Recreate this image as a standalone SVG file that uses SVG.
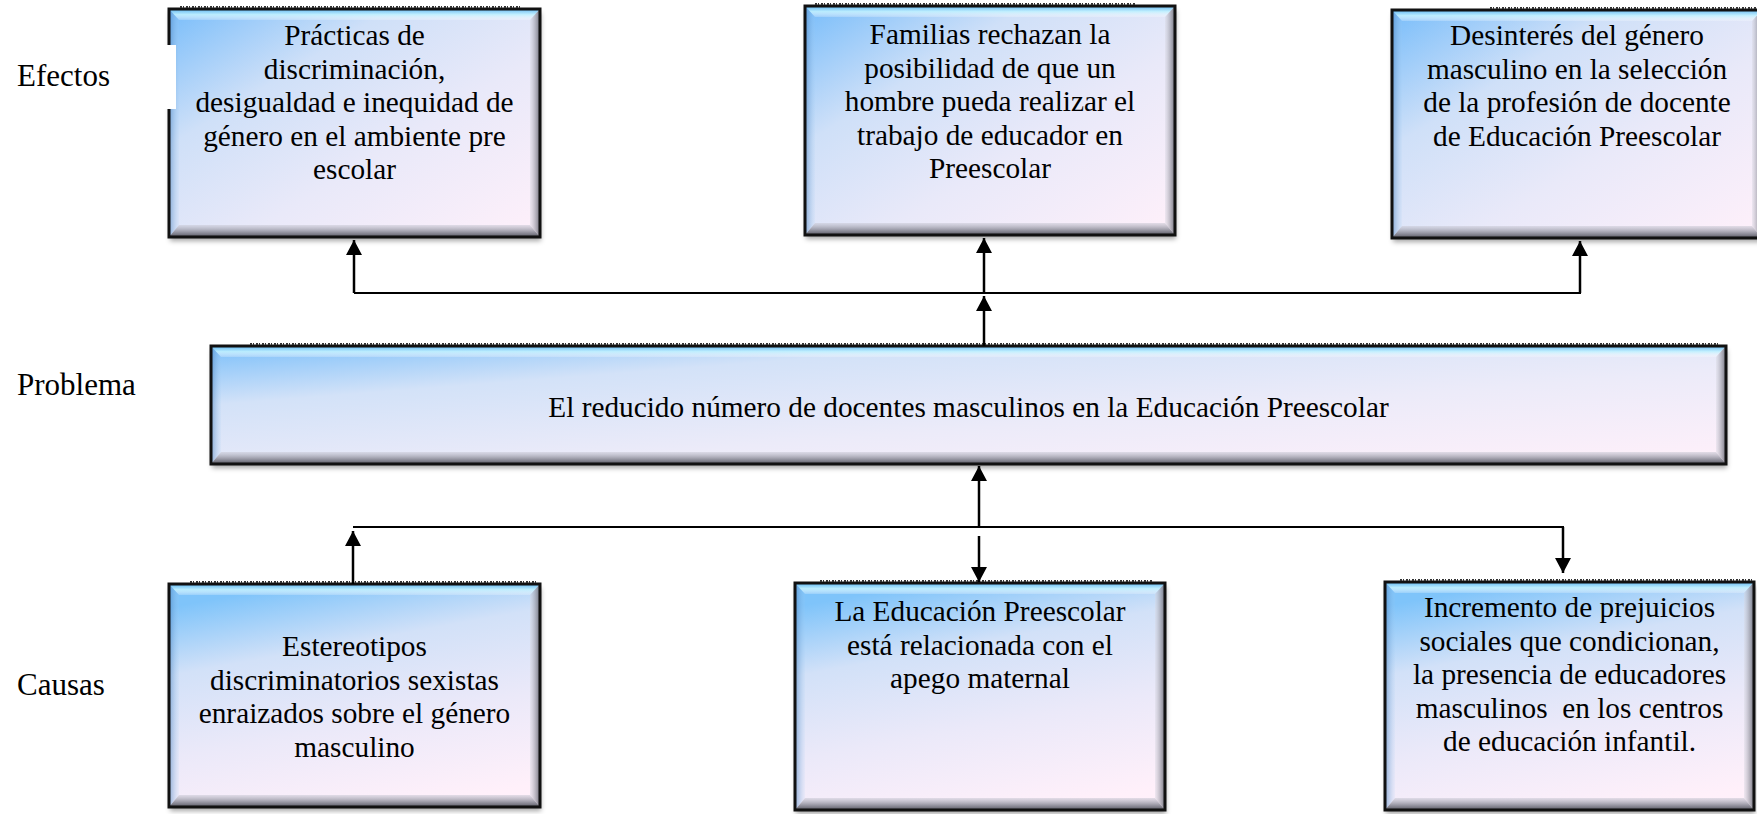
<svg xmlns="http://www.w3.org/2000/svg" width="1757" height="814" viewBox="0 0 1757 814">
<style>
.lbl{font-family:"Liberation Serif","Times New Roman",serif;font-size:31px;fill:#000}
.t{font-family:"Liberation Serif","Times New Roman",serif;font-size:29.3px;fill:#000;text-anchor:middle}
.brd{fill:none;stroke:#111;stroke-width:3}
.bt{fill:url(#gTop)}
.bb{fill:url(#gBot)}
.br{fill:url(#gRight)}
.bl{fill:url(#gLeft)}
.jag{stroke:#333;stroke-width:2;stroke-dasharray:2 1 1 2;fill:none}
.con{fill:none;stroke:#000;stroke-width:2.5}
.hl{fill:none;stroke:#000;stroke-width:2}
</style>
<defs>
<linearGradient id="gDiag" x1="0" y1="0" x2="1" y2="1">
<stop offset="0" stop-color="#78bdfa"/>
<stop offset="0.3" stop-color="#cfe0f8"/>
<stop offset="0.6" stop-color="#e9e9f9"/>
<stop offset="1" stop-color="#fff0fa"/>
</linearGradient>
<linearGradient id="gVert" x1="0.35" y1="0" x2="0.65" y2="1">
<stop offset="0" stop-color="#7fc4fa"/>
<stop offset="0.28" stop-color="#d2e1f8"/>
<stop offset="0.62" stop-color="#ebe9f9"/>
<stop offset="1" stop-color="#fff0fa"/>
</linearGradient>
<linearGradient id="gProb" x1="0" y1="0" x2="1" y2="1">
<stop offset="0" stop-color="#7cc0fa"/>
<stop offset="0.25" stop-color="#d3e2f8"/>
<stop offset="0.6" stop-color="#ecebf9"/>
<stop offset="1" stop-color="#fff0fa"/>
</linearGradient>
<linearGradient id="gTop" x1="0" y1="0" x2="0" y2="1">
<stop offset="0" stop-color="#5ab4f0" stop-opacity="0.9"/>
<stop offset="0.5" stop-color="#bff0ff" stop-opacity="0.9"/>
<stop offset="1" stop-color="#ffffff" stop-opacity="0.2"/>
</linearGradient>
<linearGradient id="gBot" x1="0" y1="0" x2="0" y2="1">
<stop offset="0" stop-color="#c8c8d4" stop-opacity="0.5"/>
<stop offset="0.6" stop-color="#8c8c98" stop-opacity="0.9"/>
<stop offset="1" stop-color="#55555f" stop-opacity="1"/>
</linearGradient>
<linearGradient id="gRight" x1="0" y1="0" x2="1" y2="0">
<stop offset="0" stop-color="#d8d8e2" stop-opacity="0.4"/>
<stop offset="1" stop-color="#6a6a75" stop-opacity="0.95"/>
</linearGradient>
<linearGradient id="gLeft" x1="0" y1="0" x2="1" y2="0">
<stop offset="0" stop-color="#3f78b8" stop-opacity="0.55"/>
<stop offset="1" stop-color="#9fcaf0" stop-opacity="0.1"/>
</linearGradient>
<filter id="sh" x="-5%" y="-5%" width="110%" height="115%">
<feDropShadow dx="1" dy="4" stdDeviation="2.5" flood-color="#000" flood-opacity="0.35"/>
</filter>
<marker id="ah" markerUnits="userSpaceOnUse" markerWidth="16" markerHeight="16" refX="15" refY="8" orient="auto">
<path d="M0,0 L15,8 L0,16 z" fill="#000"/>
</marker>
</defs>
<rect width="1757" height="814" fill="#fff"/>

<!-- Effects box 1 -->
<g id="efecto1">
<rect x="169" y="9" width="371" height="228" fill="url(#gDiag)" filter="url(#sh)"/>
<polygon class="bt" points="169,9 540,9 530,20 179,20"/>
<polygon class="bl" points="169,9 179,20 179,225 169,237"/>
<polygon class="br" points="540,9 540,237 530,225 530,20"/>
<polygon class="bb" points="169,237 540,237 530,225 179,225"/>
<rect class="brd" x="169" y="9" width="371" height="228"/>
<line class="jag" x1="180" y1="7" x2="520" y2="7"/>
<text class="t"><tspan x="354.5" y="45">Prácticas de</tspan><tspan x="354.5" y="78.6">discriminación,</tspan><tspan x="354.5" y="112.2">desigualdad e inequidad de</tspan><tspan x="354.5" y="145.8">género en el ambiente pre</tspan><tspan x="354.5" y="179.4">escolar</tspan></text>
</g>

<!-- white label background cutting box edge -->
<rect x="10" y="45" width="166" height="64" fill="#fff"/>
<g id="lbl-efectos"><text class="lbl" x="17" y="86">Efectos</text></g>

<!-- Effects box 2 -->
<g id="efecto2">
<rect x="805" y="6" width="370" height="229" fill="url(#gDiag)" filter="url(#sh)"/>
<polygon class="bt" points="805,6 1175,6 1165,17 815,17"/>
<polygon class="bl" points="805,6 815,17 815,223 805,235"/>
<polygon class="br" points="1175,6 1175,235 1165,223 1165,17"/>
<polygon class="bb" points="805,235 1175,235 1165,223 815,223"/>
<rect class="brd" x="805" y="6" width="370" height="229"/>
<line class="jag" x1="815" y1="4" x2="1135" y2="4"/>
<text class="t"><tspan x="990" y="44">Familias rechazan la</tspan><tspan x="990" y="77.6">posibilidad de que un</tspan><tspan x="990" y="111.2">hombre pueda realizar el</tspan><tspan x="990" y="144.8">trabajo de educador en</tspan><tspan x="990" y="178.4">Preescolar</tspan></text>
</g>

<!-- Effects box 3 -->
<g id="efecto3">
<rect x="1392" y="10" width="370" height="228" fill="url(#gDiag)" filter="url(#sh)"/>
<polygon class="bt" points="1392,10 1762,10 1752,21 1402,21"/>
<polygon class="bl" points="1392,10 1402,21 1402,226 1392,238"/>
<polygon class="br" points="1762,10 1762,238 1752,226 1752,21"/>
<polygon class="bb" points="1392,238 1762,238 1752,226 1402,226"/>
<rect class="brd" x="1392" y="10" width="370" height="228"/>
<line class="jag" x1="1490" y1="8" x2="1757" y2="8"/>
<text class="t"><tspan x="1577" y="45">Desinterés del género</tspan><tspan x="1577" y="78.6">masculino en la selección</tspan><tspan x="1577" y="112.2">de la profesión de docente</tspan><tspan x="1577" y="145.8">de Educación Preescolar</tspan></text>
</g>

<!-- Problem -->
<g id="lbl-problema"><text class="lbl" x="17" y="395">Problema</text></g>
<g id="problema">
<rect x="211" y="346" width="1515" height="118" fill="url(#gProb)" filter="url(#sh)"/>
<polygon class="bt" points="211,346 1726,346 1716,357 221,357"/>
<polygon class="bl" points="211,346 221,357 221,452 211,464"/>
<polygon class="br" points="1726,346 1726,464 1716,452 1716,357"/>
<polygon class="bb" points="211,464 1726,464 1716,452 221,452"/>
<rect class="brd" x="211" y="346" width="1515" height="118"/>
<line class="jag" x1="250" y1="344" x2="1720" y2="344"/>
<text class="t" x="968.5" y="417">El reducido número de docentes masculinos en la Educación Preescolar</text>
</g>

<!-- Causes -->
<g id="lbl-causas"><text class="lbl" x="17" y="695">Causas</text></g>

<g id="causa1">
<rect x="169" y="584" width="371" height="223" fill="url(#gVert)" filter="url(#sh)"/>
<polygon class="bt" points="169,584 540,584 530,595 179,595"/>
<polygon class="bl" points="169,584 179,595 179,795 169,807"/>
<polygon class="br" points="540,584 540,807 530,795 530,595"/>
<polygon class="bb" points="169,807 540,807 530,795 179,795"/>
<rect class="brd" x="169" y="584" width="371" height="223"/>
<line class="jag" x1="190" y1="582" x2="538" y2="582"/>
<text class="t"><tspan x="354.5" y="656">Estereotipos</tspan><tspan x="354.5" y="689.6">discriminatorios sexistas</tspan><tspan x="354.5" y="723.2">enraizados sobre el género</tspan><tspan x="354.5" y="756.8">masculino</tspan></text>
</g>

<g id="causa2">
<rect x="795" y="583" width="370" height="227" fill="url(#gVert)" filter="url(#sh)"/>
<polygon class="bt" points="795,583 1165,583 1155,594 805,594"/>
<polygon class="bl" points="795,583 805,594 805,798 795,810"/>
<polygon class="br" points="1165,583 1165,810 1155,798 1155,594"/>
<polygon class="bb" points="795,810 1165,810 1155,798 805,798"/>
<rect class="brd" x="795" y="583" width="370" height="227"/>
<line class="jag" x1="820" y1="581" x2="1152" y2="581"/>
<text class="t"><tspan x="980" y="621">La Educación Preescolar</tspan><tspan x="980" y="654.6">está relacionada con el</tspan><tspan x="980" y="688.2">apego maternal</tspan></text>
</g>

<g id="causa3">
<rect x="1385" y="582" width="369" height="228" fill="url(#gVert)" filter="url(#sh)"/>
<polygon class="bt" points="1385,582 1754,582 1744,593 1395,593"/>
<polygon class="bl" points="1385,582 1395,593 1395,798 1385,810"/>
<polygon class="br" points="1754,582 1754,810 1744,798 1744,593"/>
<polygon class="bb" points="1385,810 1754,810 1744,798 1395,798"/>
<rect class="brd" x="1385" y="582" width="369" height="228"/>
<line class="jag" x1="1400" y1="580" x2="1752" y2="580"/>
<text class="t"><tspan x="1569.5" y="617">Incremento de prejuicios</tspan><tspan x="1569.5" y="650.6">sociales que condicionan,</tspan><tspan x="1569.5" y="684.2">la presencia de educadores</tspan><tspan x="1569.5" y="717.8" style="white-space:pre">masculinos  en los centros</tspan><tspan x="1569.5" y="751.4">de educación infantil.</tspan></text>
</g>

<!-- Connectors -->
<g id="connectors">
<path class="hl" d="M354,293 H1581"/>
<path class="con" d="M354,293 V240" marker-end="url(#ah)"/>
<path class="con" d="M984,293 V238" marker-end="url(#ah)"/>
<path class="con" d="M1580,293 V241" marker-end="url(#ah)"/>
<path class="con" d="M984,346 V296" marker-end="url(#ah)"/>
<path class="hl" d="M353,527 H1564"/>
<path class="con" d="M353,584 V531" marker-end="url(#ah)"/>
<path class="con" d="M979,527 V466" marker-end="url(#ah)"/>
<path class="con" d="M979,536 V582" marker-end="url(#ah)"/>
<path class="con" d="M1563,527 V573" marker-end="url(#ah)"/>
</g>
</svg>
